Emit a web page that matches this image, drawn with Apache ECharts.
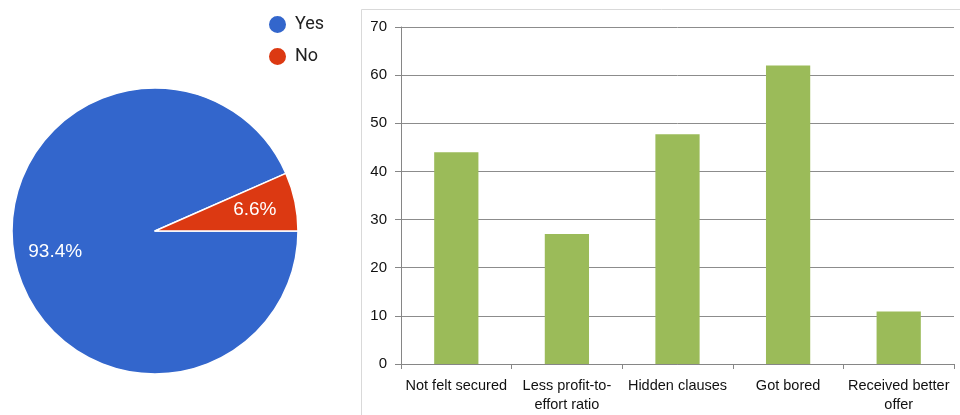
<!DOCTYPE html>
<html>
<head>
<meta charset="utf-8">
<script src="https://cdn.jsdelivr.net/npm/echarts@6/dist/echarts.min.js"></script>
<style>html,body{margin:0;padding:0;background:#fff;}#c{width:960px;height:415px;}</style>
</head>
<body>
<div id="c"></div>
<script>
var pieNames = ['Yes', 'No'];
var pieValues = [93.4, 6.6];
var pieColors = ['#3366CC', '#DC3912'];
var barCategories = ['Not felt secured', 'Less profit-to-\neffort ratio', 'Hidden clauses', 'Got bored', 'Received better\noffer'];
var barValues = [44, 27, 47.7, 62, 10.9];
var yTicks = {min: 0, max: 70, interval: 10};

var pieData = pieNames.map(function (n, i) { return {name: n, value: pieValues[i], itemStyle: {color: pieColors[i]}}; });
var labelData = pieNames.map(function (n, i) { return {name: n, value: pieValues[i]}; });

var chart = echarts.init(document.getElementById('c'), null, {renderer: 'canvas'});
chart.setOption({
  animation: false,
  backgroundColor: '#fff',
  textStyle: {fontFamily: 'Liberation Sans, Arial, sans-serif'},
  legend: {
    data: pieNames,
    orient: 'vertical',
    left: 262,
    top: 9,
    icon: 'circle',
    itemWidth: 19,
    itemHeight: 19,
    itemGap: 11,
    textStyle: {fontSize: 18, color: '#222', fontFamily: 'Roboto, Arial, sans-serif', padding: [0, 0, 0, 3]}
  },
  graphic: [{
    type: 'rect', silent: true, z: -1,
    shape: {x: 361.5, y: 9.5, width: 700, height: 500},
    style: {fill: 'none', stroke: '#d9d9d9', lineWidth: 1}
  }],
  grid: {left: 401, right: 6, top: 27, bottom: 51, containLabel: false},
  xAxis: {
    type: 'category',
    data: barCategories,
    boundaryGap: true,
    axisLine: {lineStyle: {color: '#868686', width: 1}},
    axisTick: {show: true, length: 5, alignWithLabel: false, lineStyle: {color: '#868686'}},
    axisLabel: {color: '#111', fontSize: 14.5, margin: 12, lineHeight: 19, interval: 0}
  },
  yAxis: {
    type: 'value',
    min: yTicks.min, max: yTicks.max, interval: yTicks.interval,
    axisLine: {show: true, lineStyle: {color: '#868686', width: 1}},
    axisTick: {show: true, length: 6, inside: false, lineStyle: {color: '#868686'}},
    axisLabel: {color: '#111', fontSize: 15, margin: 14},
    splitLine: {lineStyle: {color: '#8c8c8c', width: 1}}
  },
  series: [
    {
      type: 'pie',
      center: [155, 231],
      radius: [0, 143],
      startAngle: 0,
      clockwise: true,
      data: pieData,
      label: {show: false},
      labelLine: {show: false},
      itemStyle: {borderColor: '#fff', borderWidth: 1.5},
      emphasis: {disabled: true}
    },
    {
      type: 'pie',
      center: [155, 231],
      radius: [0, 198],
      startAngle: 0,
      clockwise: true,
      silent: true,
      data: labelData,
      itemStyle: {color: 'rgba(0,0,0,0)', borderWidth: 0},
      label: {show: true, position: 'inside', color: '#fff', fontSize: 19, fontFamily: 'Liberation Sans, Arial, sans-serif',
        formatter: function (p) { return p.value.toFixed(1) + '%'; }},
      labelLine: {show: false},
      emphasis: {disabled: true},
      z: 3
    },
    {
      type: 'bar',
      data: barValues,
      barWidth: '40%',
      itemStyle: {color: '#9BBB59'},
      emphasis: {disabled: true}
    }
  ]
});
</script>
</body>
</html>
